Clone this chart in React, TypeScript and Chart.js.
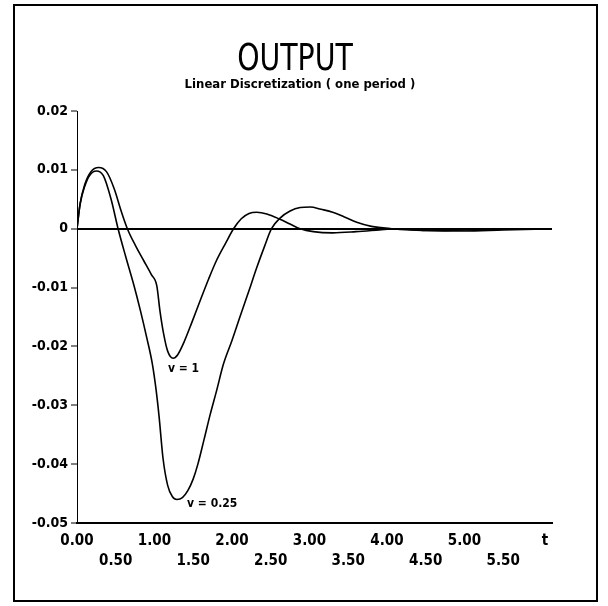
import React, { useEffect, useRef } from "react";
import { Chart, registerables } from "chart.js";

Chart.register(...registerables);

// ---- data ----
const titleText = "OUTPUT";
const subtitleText = "Linear Discretization ( one period )";

const tV1 = [0, 0.04, 0.1, 0.18, 0.28, 0.38, 0.48, 0.57, 0.65, 0.76, 0.86, 0.96, 1.03, 1.07, 1.12, 1.17, 1.24, 1.3, 1.38, 1.48, 1.59, 1.7, 1.8, 1.92, 2.02, 2.12, 2.22, 2.32, 2.45, 2.62, 2.75, 2.88, 3.05, 3.3, 3.6, 3.9, 4.1, 4.5, 5.0, 5.5, 6.13];
const yV1 = [0, 0.0042, 0.0075, 0.0097, 0.0104, 0.0097, 0.0068, 0.003, 0, -0.003, -0.0054, -0.0078, -0.0097, -0.0139, -0.018, -0.0208, -0.022, -0.0214, -0.0193, -0.016, -0.0122, -0.0085, -0.0054, -0.0024, 0, 0.0017, 0.0026, 0.0028, 0.0025, 0.0016, 0.0008, 0, -0.0005, -0.0007, -0.0005, -0.0002, 0, -0.0003, -0.0004, -0.0002, 0];

const tV025 = [0, 0.04, 0.1, 0.16, 0.25, 0.34, 0.44, 0.53, 0.63, 0.73, 0.82, 0.9, 0.97, 1.02, 1.06, 1.11, 1.17, 1.23, 1.29, 1.36, 1.43, 1.5, 1.56, 1.64, 1.72, 1.8, 1.89, 2.0, 2.1, 2.22, 2.32, 2.42, 2.51, 2.62, 2.75, 2.88, 3.01, 3.15, 3.3, 3.45, 3.61, 3.8, 4.06, 4.3, 4.6, 5.0, 5.5, 6.13];
const yV025 = [0, 0.0042, 0.0072, 0.009, 0.0098, 0.009, 0.005, 0, -0.0048, -0.0094, -0.014, -0.0185, -0.0228, -0.0273, -0.032, -0.039, -0.0436, -0.0455, -0.046, -0.0457, -0.0445, -0.0425, -0.04, -0.0358, -0.0315, -0.0276, -0.023, -0.019, -0.0151, -0.0105, -0.0066, -0.003, 0, 0.0018, 0.003, 0.0036, 0.0037, 0.0033, 0.0028, 0.002, 0.0011, 0.0004, 0, -0.0002, -0.0003, -0.0002, -0.0001, 0];

const xTickValues = [0, 0.5, 1, 1.5, 2, 2.5, 3, 3.5, 4, 4.5, 5, 5.5, 6.04];
const xTickLabels = ["0.00", "0.50", "1.00", "1.50", "2.00", "2.50", "3.00", "3.50", "4.00", "4.50", "5.00", "5.50", "t"];
const xTickRow = [0, 1, 0, 1, 0, 1, 0, 1, 0, 1, 0, 1, 0];

const yTickValues = [0.02, 0.01, 0, -0.01, -0.02, -0.03, -0.04, -0.05];
const yTickLabels = ["0.02", "0.01", "0", "-0.01", "-0.02", "-0.03", "-0.04", "-0.05"];

const curveLabels = ["v = 1", "v = 0.25"];
const curveLabelT = [1.174, 1.42];
const curveLabelY = [-0.0238, -0.0468];

const X_MIN = 0;
const X_MAX = 6.13;
const Y_MIN = -0.05;
const Y_MAX = 0.02;

const NARROW = '"Liberation Sans Narrow", "DejaVu Sans Condensed", "Liberation Sans", sans-serif';

const toPoints = (ts: number[], ys: number[]) => ts.map((t, i) => ({ x: t, y: ys[i] }));

const curveLabelPlugin = {
  id: "curveLabels",
  afterDatasetsDraw(chart: any) {
    const { ctx, scales } = chart;
    const xs = scales.x;
    const ys = scales.y;
    ctx.save();
    ctx.font = `bold 12px ${NARROW}`;
    ctx.fillStyle = "#000";
    ctx.textAlign = "left";
    ctx.textBaseline = "middle";
    curveLabels.forEach((txt, i) => {
      ctx.fillText(txt, xs.getPixelForValue(curveLabelT[i]), ys.getPixelForValue(curveLabelY[i]));
    });
    ctx.restore();
  },
};

export default function App() {
  const canvasRef = useRef<HTMLCanvasElement | null>(null);

  useEffect(() => {
    const canvas = canvasRef.current;
    if (!canvas) return;
    const chart = new Chart(canvas, {
      type: "scatter",
      data: {
        datasets: [
          {
            label: "v = 1",
            data: toPoints(tV1, yV1),
            showLine: true,
            borderColor: "#000",
            borderWidth: 1.6,
            pointRadius: 0,
            cubicInterpolationMode: "monotone",
            fill: false,
          },
          {
            label: "v = 0.25",
            data: toPoints(tV025, yV025),
            showLine: true,
            borderColor: "#000",
            borderWidth: 1.6,
            pointRadius: 0,
            cubicInterpolationMode: "monotone",
            fill: false,
          },
        ],
      },
      options: {
        animation: false,
        responsive: false,
        events: [],
        layout: { padding: { top: 111, right: 56, bottom: 0, left: 0 } },
        plugins: {
          legend: { display: false },
          title: { display: false },
          tooltip: { enabled: false },
        },
        scales: {
          x: {
            type: "linear",
            min: X_MIN,
            max: X_MAX,
            afterFit: (s: any) => {
              s.height = 83;
            },
            afterBuildTicks: (s: any) => {
              s.ticks = xTickValues.map((v) => ({ value: v }));
            },
            grid: { display: false, drawTicks: false },
            border: { display: true, color: "#000", width: 2 },
            ticks: {
              autoSkip: false,
              maxRotation: 0,
              minRotation: 0,
              padding: 8,
              color: "#000",
              font: { family: NARROW, size: 15, weight: "bold", lineHeight: "20px" } as any,
              callback: (_v: any, i: number) =>
                xTickRow[i] === 0 ? [xTickLabels[i], ""] : ["", xTickLabels[i]],
            },
          },
          y: {
            type: "linear",
            min: Y_MIN,
            max: Y_MAX,
            afterFit: (s: any) => {
              s.width = 77;
            },
            afterBuildTicks: (s: any) => {
              s.ticks = yTickValues.map((v) => ({ value: v }));
            },
            grid: {
              display: true,
              drawOnChartArea: true,
              drawTicks: true,
              tickLength: 6,
              tickWidth: 1,
              tickColor: "#000",
              color: (c: any) => (c.tick && c.tick.value === 0 ? "#000" : "rgba(0,0,0,0)"),
              lineWidth: (c: any) => (c.tick && c.tick.value === 0 ? 2 : 0),
            },
            border: { display: true, color: "#000", width: 1 },
            ticks: {
              padding: 3,
              color: "#000",
              font: { family: NARROW, size: 14, weight: "bold" } as any,
              callback: (_v: any, i: number) => yTickLabels[i],
            },
          },
        },
      },
      plugins: [curveLabelPlugin],
    } as any);
    return () => chart.destroy();
  }, []);

  return (
    <div
      style={{
        position: "absolute",
        left: 0,
        top: 0,
        width: 608,
        height: 606,
        background: "#fff",
        overflow: "hidden",
      }}
    >
      <canvas ref={canvasRef} width={608} height={606} style={{ position: "absolute", left: 0, top: 0, width: 608, height: 606 }} />
      <div
        style={{
          position: "absolute",
          left: 145,
          top: 38,
          width: 300,
          textAlign: "center",
          fontFamily: NARROW,
          fontSize: 38,
          lineHeight: "38px",
          color: "#000",
          transform: "scaleX(0.83)",
          whiteSpace: "nowrap",
        }}
      >
        {titleText}
      </div>
      <div
        style={{
          position: "absolute",
          left: 100,
          top: 77,
          width: 400,
          textAlign: "center",
          fontFamily: NARROW,
          fontSize: 13,
          fontWeight: "bold",
          lineHeight: "13px",
          color: "#000",
          whiteSpace: "nowrap",
        }}
      >
        {subtitleText}
      </div>
      <div
        style={{
          position: "absolute",
          left: 13,
          top: 4,
          width: 585,
          height: 598,
          boxSizing: "border-box",
          border: "2px solid #000",
          pointerEvents: "none",
        }}
      />
    </div>
  );
}
